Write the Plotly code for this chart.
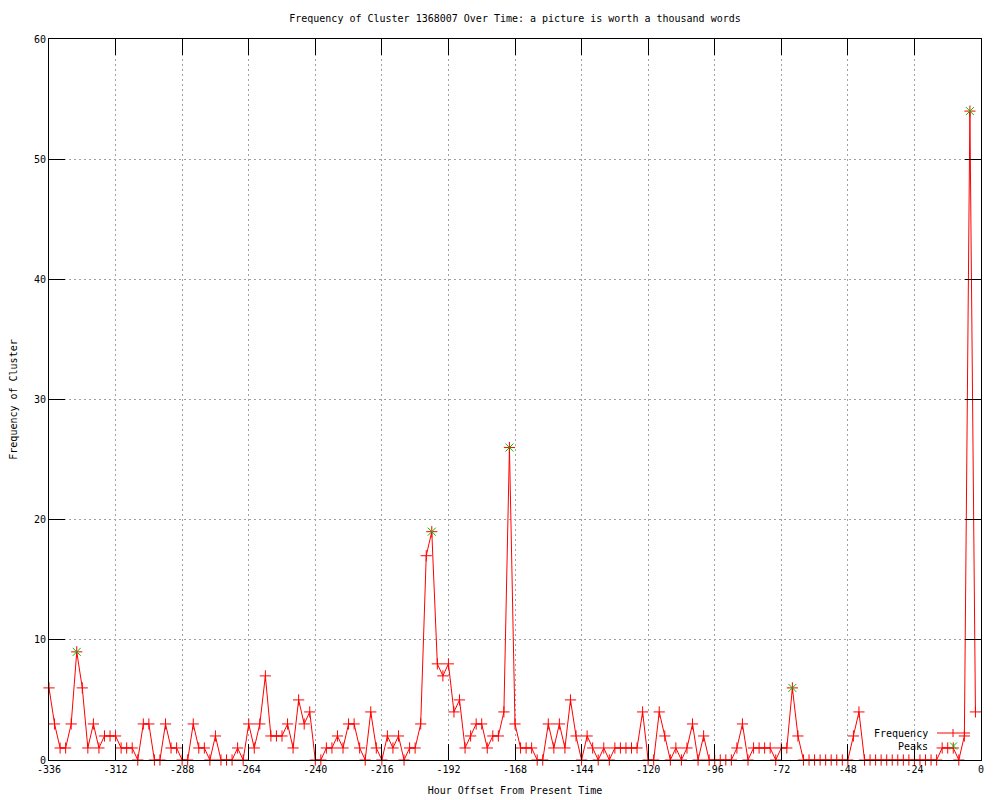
import plotly.graph_objects as go

# ---------------- data ----------------
hours = list(range(-336, 0, 2))  # hour offsets, 2-hour bins
frequency = [
    6, 3, 1, 1, 3, 9, 6, 1, 3, 1,
    2, 2, 2, 1, 1, 1, 0, 3, 3, 0,
    0, 3, 1, 1, 0, 0, 3, 1, 1, 0,
    2, 0, 0, 0, 1, 0, 3, 1, 3, 7,
    2, 2, 2, 3, 1, 5, 3, 4, 0, 0,
    1, 1, 2, 1, 3, 3, 1, 0, 4, 1,
    0, 2, 1, 2, 0, 1, 1, 3, 17, 19,
    8, 7, 8, 4, 5, 1, 2, 3, 3, 1,
    2, 2, 4, 26, 3, 1, 1, 1, 0, 0,
    3, 1, 3, 1, 5, 2, 0, 2, 1, 0,
    1, 0, 1, 1, 1, 1, 1, 4, 0, 0,
    4, 2, 0, 1, 0, 1, 3, 0, 2, 0,
    0, 0, 0, 0, 1, 3, 0, 1, 1, 1,
    1, 0, 1, 1, 6, 2, 0, 0, 0, 0,
    0, 0, 0, 0, 0, 2, 4, 0, 0, 0,
    0, 0, 0, 0, 0, 0, 0, 0, 0, 0,
    0, 1, 1, 1, 0, 2, 54, 4,
]
peak_hours = [-326, -198, -170, -68, -4]
peak_values = [9, 19, 26, 6, 54]

x_ticks = list(range(-336, 1, 24))
y_ticks = list(range(0, 61, 10))

title_text = "Frequency of Cluster 1368007 Over Time: a picture is worth a thousand words"
x_title = "Hour Offset From Present Time"
y_title = "Frequency of Cluster"
legend_labels = ["Frequency", "Peaks"]

# ---------------- layout constants ----------------
W, H = 1000, 800
L, R, T, B = 49, 19, 39, 40
FONT = "DejaVu Sans Mono"
RED = "#ff0000"
GREEN = "#00c000"

def px_x(px):
    return (px - L) / (W - L - R)

def px_y(py):
    return (H - B - py) / (H - T - B)

fig = go.Figure()
fig.add_trace(go.Scatter(
    x=hours, y=frequency, mode="lines+markers", name=legend_labels[0],
    line=dict(color=RED, width=1),
    marker=dict(symbol="cross-thin", size=8, line=dict(color=RED, width=1), color=RED),
    cliponaxis=False, showlegend=False,
))
fig.add_trace(go.Scatter(
    x=peak_hours, y=peak_values, mode="markers", name=legend_labels[1],
    marker=dict(symbol="x-thin", size=8, line=dict(color=GREEN, width=1), color=GREEN),
    cliponaxis=False, showlegend=False,
))

axis_common = dict(
    showline=True, linecolor="black", linewidth=1, mirror="ticks",
    ticks="inside", ticklen=16, tickcolor="black", tickwidth=1,
    showgrid=True, gridcolor="#a0a0a0", griddash="2px,3px", gridwidth=1,
    zeroline=False, tickfont=dict(family=FONT, size=10, color="black"),
    automargin=False,
)

fig.update_xaxes(range=[-336, 0], tickmode="array", tickvals=x_ticks,
                 ticktext=[str(v) for v in x_ticks],
                 title=dict(text=x_title, font=dict(family=FONT, size=10, color="black"), standoff=12),
                 **axis_common)
fig.update_yaxes(range=[0, 60], tickmode="array", tickvals=y_ticks,
                 ticktext=[str(v) for v in y_ticks],
                 title=dict(text=y_title, font=dict(family=FONT, size=10, color="black"), standoff=14),
                 **axis_common)

# manual gnuplot-style key (text left, sample right)
shapes = [
    dict(type="line", xref="paper", yref="paper",
         x0=px_x(937), x1=px_x(970), y0=px_y(733), y1=px_y(733),
         line=dict(color=RED, width=1)),
    dict(type="line", xref="paper", yref="paper",
         x0=px_x(953), x1=px_x(953), y0=px_y(729), y1=px_y(737),
         line=dict(color=RED, width=1)),
    dict(type="line", xref="paper", yref="paper",
         x0=px_x(950), x1=px_x(957), y0=px_y(742.5), y1=px_y(749.5),
         line=dict(color=GREEN, width=1)),
    dict(type="line", xref="paper", yref="paper",
         x0=px_x(950), x1=px_x(957), y0=px_y(749.5), y1=px_y(742.5),
         line=dict(color=GREEN, width=1)),
]
annotations = [
    dict(text=legend_labels[0], xref="paper", yref="paper", x=px_x(930), y=px_y(733),
         xanchor="right", yanchor="middle", showarrow=False,
         font=dict(family=FONT, size=10, color="black")),
    dict(text=legend_labels[1], xref="paper", yref="paper", x=px_x(930), y=px_y(746),
         xanchor="right", yanchor="middle", showarrow=False,
         font=dict(family=FONT, size=10, color="black")),
]

fig.update_layout(
    width=W, height=H, autosize=False,
    margin=dict(l=L, r=R, t=T, b=B, pad=0),
    paper_bgcolor="white", plot_bgcolor="white",
    title=dict(text=title_text, x=0.5, xref="paper", y=1 - 18 / H, yref="container",
               xanchor="center", yanchor="middle",
               font=dict(family=FONT, size=10, color="black")),
    shapes=shapes, annotations=annotations, showlegend=False,
)

fig.write_html("out.html", config={"displayModeBar": False},
               post_script="document.body.style.margin='0px';")
